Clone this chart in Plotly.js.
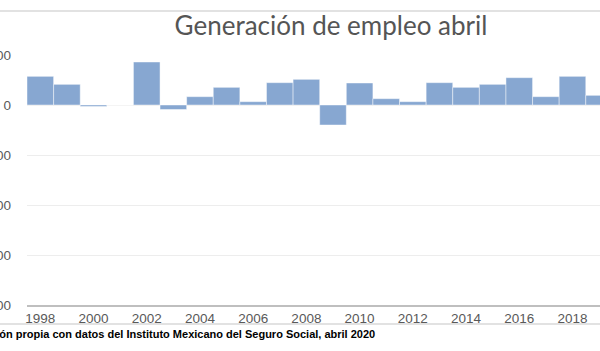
<!DOCTYPE html>
<html>
<head>
<meta charset="utf-8">
<script src="https://cdn.plot.ly/plotly-3.0.1.min.js"></script>
<style>
html, body { margin: 0; padding: 0; width: 600px; height: 351px; overflow: hidden; background: #ffffff; }
#chart { position: absolute; left: -60px; top: 0; width: 720px; height: 351px; }
</style>
</head>
<body>
<div id="chart"></div>
<script>
// Data (April job creation)
const years = [1998, 1999, 2000, 2001, 2002, 2003, 2004, 2005, 2006, 2007, 2008, 2009,
               2010, 2011, 2012, 2013, 2014, 2015, 2016, 2017, 2018, 2019, 2020];
const empleo = [86000, 62000, -4500, 0, 129000, -13500, 25000, 53000, 10000, 67000, 77000, -60000,
                66000, 19000, 10000, 67000, 53000, 62000, 82000, 25000, 86000, 29000, -555000];
const chartTitle = 'Generación de empleo abril';
const sourceText = 'Fuente: Elaboración propia con datos del Instituto Mexicano del Seguro Social, abril 2020';

const W = 720, H = 351, OFF = 60;
const plotLeft = 27 + OFF, plotW = 612, plotTop = 55, plotH = 250;

const trace = {
  type: 'bar',
  x: years,
  y: empleo,
  marker: { color: '#87a7d1', line: { color: 'rgba(255,255,255,0.45)', width: 1 } },
  hoverinfo: 'x+y'
};

const layout = {
  width: W,
  height: H,
  margin: { l: plotLeft, r: W - plotLeft - plotW, t: plotTop, b: H - plotTop - plotH },
  paper_bgcolor: '#ffffff',
  plot_bgcolor: '#ffffff',
  bargap: 0,
  showlegend: false,
  title: {
    text: chartTitle,
    font: { family: 'Lato, "Open Sans", sans-serif', size: 26, color: '#555555' },
    xref: 'container', x: (331 + OFF) / W, xanchor: 'center',
    yref: 'container', y: 1 - 26 / H, yanchor: 'middle'
  },
  xaxis: {
    range: [1997.5, 2020.5],
    tick0: 1998, dtick: 2,
    showgrid: false,
    zeroline: false,
    showline: true, linecolor: '#bfbfbf', linewidth: 2,
    ticks: '',
    tickfont: { family: '"Liberation Sans", Arial, sans-serif', size: 13.5, color: '#595959' },
    fixedrange: true
  },
  yaxis: {
    range: [-600000, 150000],
    dtick: 150000,
    tickformat: ',',
    showgrid: true, gridcolor: '#ededed', gridwidth: 1,
    zeroline: true, zerolinecolor: '#ededed', zerolinewidth: 1,
    showline: false,
    ticks: '',
    ticklabelstandoff: 15,
    tickfont: { family: '"Liberation Sans", Arial, sans-serif', size: 13.5, color: '#595959' },
    fixedrange: true
  },
  shapes: [
    { type: 'line', xref: 'paper', yref: 'paper', x0: -0.5, x1: 1.5,
      y0: 1 + (plotTop - 11) / plotH, y1: 1 + (plotTop - 11) / plotH,
      line: { color: '#d9d9d9', width: 1.5 } },
    { type: 'line', xref: 'paper', yref: 'paper', x0: -0.5, x1: 1.5,
      y0: -(324 - plotTop - plotH) / plotH, y1: -(324 - plotTop - plotH) / plotH,
      line: { color: '#d9d9d9', width: 1.5 } }
  ],
  annotations: [
    { text: '<b>' + sourceText + '</b>', showarrow: false,
      xref: 'paper', x: (377 + OFF - plotLeft) / plotW, xanchor: 'right',
      yref: 'paper', y: -(334 - plotTop - plotH) / plotH, yanchor: 'middle',
      font: { family: '"Liberation Sans", Arial, sans-serif', size: 11, color: '#000000' } }
  ]
};

Plotly.newPlot('chart', [trace], layout, { displayModeBar: false, staticPlot: true });
</script>
</body>
</html>
